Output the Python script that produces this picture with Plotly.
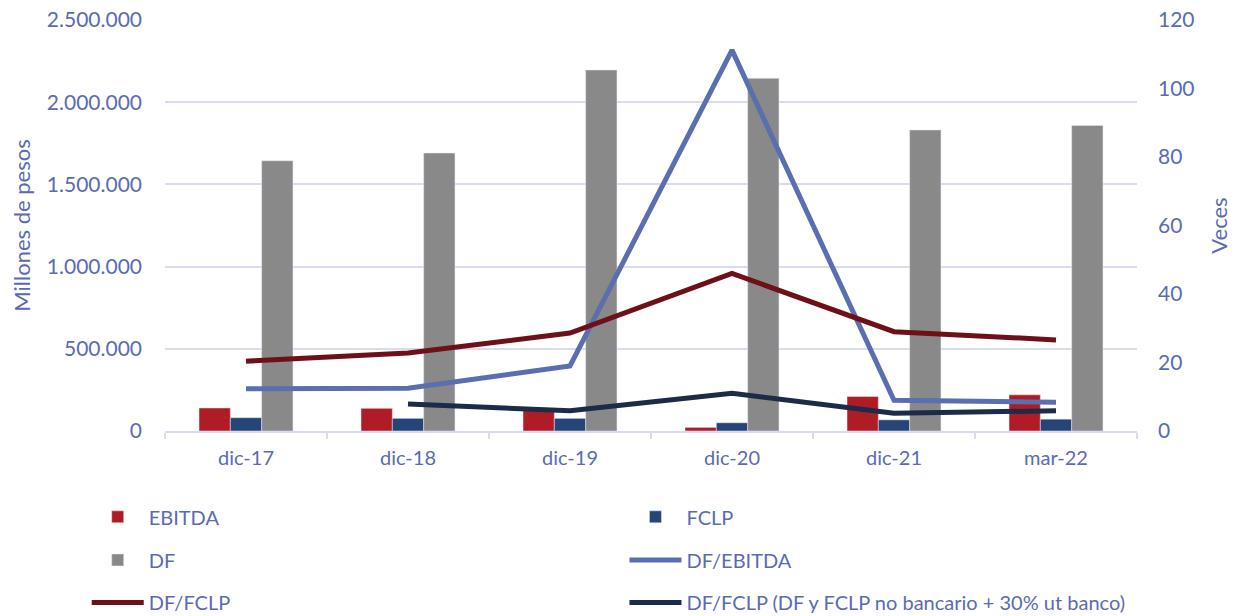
import plotly.graph_objects as go

categories = ["dic-17", "dic-18", "dic-19", "dic-20", "dic-21", "mar-22"]
ebitda = [140000, 138000, 130000, 22000, 210000, 220000]
fclp = [81000, 77000, 77000, 50000, 68000, 72000]
df = [1644000, 1691000, 2196000, 2145000, 1831000, 1859000]
df_ebitda = [12.3, 12.5, 19.0, 111.2, 9.0, 8.4]
df_fclp = [20.4, 22.8, 28.6, 46.0, 29.0, 26.6]
df_fclp_nb = [None, 7.9, 5.9, 11.0, 5.2, 5.9]

TXT = "#5B6BB3"
GRID = "#D9DCEE"
FONT = "Lato, Open Sans, sans-serif"

fig = go.Figure()
fig.add_trace(go.Bar(x=categories, y=ebitda, name="EBITDA", marker_color="#B01C26", legend="legend"))
fig.add_trace(go.Bar(x=categories, y=fclp, name="FCLP", marker_color="#264478", legend="legend2"))
fig.add_trace(go.Bar(x=categories, y=df, name="DF", marker_color="#898989", legend="legend3"))
fig.add_trace(go.Scatter(x=categories, y=df_ebitda, name="DF/EBITDA", mode="lines",
                         line=dict(color="#5A6EB0", width=5), yaxis="y2", legend="legend4"))
fig.add_trace(go.Scatter(x=categories, y=df_fclp, name="DF/FCLP", mode="lines",
                         line=dict(color="#6E1017", width=5), yaxis="y2", legend="legend5"))
fig.add_trace(go.Scatter(x=categories, y=df_fclp_nb, name="DF/FCLP (DF y FCLP no bancario + 30% ut banco)",
                         mode="lines", line=dict(color="#1C2B48", width=5), yaxis="y2", legend="legend6"))
for tr in fig.data:
    tr.showlegend = True

def leg(x, y):
    return dict(orientation="h", xanchor="left", yanchor="middle",
                xref="container", yref="container", x=x, y=y,
                font=dict(family=FONT, size=20, color=TXT), bgcolor="rgba(0,0,0,0)",
                itemwidth=52, visible=True)

col1, col2 = 0.070, 0.504
row1, row2, row3 = 0.161, 0.091, 0.022

fig.update_layout(
    width=1239, height=616,
    showlegend=True,
    margin=dict(l=165, r=102, t=20, b=185, autoexpand=False),
    paper_bgcolor="white", plot_bgcolor="white",
    separators=",.",
    barmode="group", bargap=0.42, bargroupgap=0,
    font=dict(family=FONT, color=TXT),
    xaxis=dict(showgrid=False, showline=True, linecolor=GRID, linewidth=2,
               ticks="outside", tickson="boundaries", ticklen=6, tickcolor=GRID, tickwidth=2,
               tickfont=dict(size=20, color=TXT), ticklabelstandoff=8),
    yaxis=dict(range=[0, 2500000], dtick=500000, tickformat=",d", showgrid=True,
               gridcolor=GRID, gridwidth=2, zeroline=False, showline=False,
               tickfont=dict(size=21, color=TXT), ticklabelstandoff=22,
               title=dict(text="Millones de pesos", font=dict(size=22, color=TXT), standoff=10)),
    yaxis2=dict(range=[0, 120], dtick=20, overlaying="y", side="right", showgrid=False,
                zeroline=False, showline=False, tickfont=dict(size=21, color=TXT),
                ticklabelstandoff=20,
                title=dict(text="Veces", font=dict(size=22, color=TXT), standoff=18)),
    legend=leg(col1, row1),
    legend2=leg(col2, row1),
    legend3=leg(col1, row2),
    legend4=leg(col2, row2),
    legend5=leg(col1, row3),
    legend6=leg(col2, row3),
)

fig.write_html("out.html")
